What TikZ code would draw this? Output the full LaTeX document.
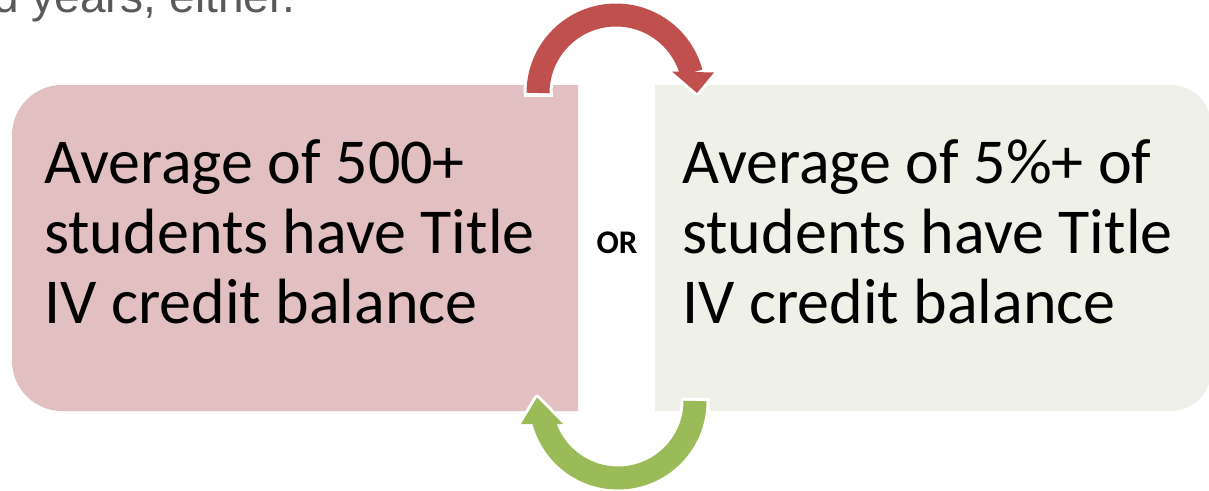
\documentclass[tikz,border=0pt]{standalone}
\usepackage{fontspec}
\setmainfont{Carlito}
\newfontfamily\topfont{Liberation Sans}
\definecolor{pinkbox}{RGB}{226,192,194}
\definecolor{greenbox}{RGB}{239,241,233}
\definecolor{redarrow}{RGB}{192,80,77}
\definecolor{greenarrow}{RGB}{155,187,89}
\definecolor{topgray}{RGB}{89,89,89}
\begin{document}
\begin{tikzpicture}[x=1pt,y=-1pt,
  boxtext/.style={anchor=base west, inner sep=0pt, font=\fontsize{64}{70}\selectfont, text=black},
  ortext/.style={anchor=base, inner sep=0pt, font=\bfseries\fontsize{33}{36}\selectfont, text=black},
  outline/.style={white, line width=29pt},
  band/.style={line width=23pt},
  headline/.style={white, line width=6pt, line join=round}]
\useasboundingbox (0,0) rectangle (1209,490);
\begin{scope}
\clip (0,0) rectangle (1209,490);
% top text (cut off)
\node[anchor=base west, inner sep=0pt, font=\topfont\fontsize{46}{50}\selectfont, text=topgray] (top) at (-7,12) {d years, either.};
% boxes
\fill[pinkbox] (578,85) [rounded corners=50pt] -- (12,85) -- (12,411) [sharp corners] -- (578,411) -- cycle;
\fill[greenbox] (655,85) [rounded corners=40pt] -- (1211,85) -- (1211,411) [sharp corners] -- (655,411) -- cycle;
% red arrow
\coordinate (rc) at (616,93);
\draw[outline] plot[domain=180:345, samples=60] ({616+78*cos(\x)},{93+78*sin(\x)});
\draw[outline] (538,93) -- (538,96.5);
\draw[headline, fill=white] (672,71.5) -- (714,72.5) -- (697,93) -- cycle;
\draw[band, redarrow] plot[domain=180:345, samples=60] ({616+78*cos(\x)},{93+78*sin(\x)});
\fill[redarrow] (672,71.5) -- (714,72.5) -- (697,93) -- cycle;
% green arrow
\coordinate (gc) at (618,401);
\draw[outline] plot[domain=0:165, samples=60] ({618+77*cos(\x)},{401+77*sin(\x)});
\draw[outline] (695,401) -- (695,397.5);
\draw[headline, fill=white] (521,424) -- (563,424) -- (537,397.5) -- cycle;
\draw[band, greenarrow] plot[domain=0:165, samples=60] ({618+77*cos(\x)},{401+77*sin(\x)});
\fill[greenarrow] (521,424) -- (563,424) -- (537,397.5) -- cycle;
% texts
\node[boxtext] (l1) at (44,183) {Average of 500+};
\node[boxtext] (l2) at (44,253) {students have Title};
\node[boxtext] (l3) at (44,323) {IV credit balance};
\node[boxtext] (r1) at (682,183) {Average of 5\%+ of};
\node[boxtext] (r2) at (682,253) {students have Title};
\node[boxtext] (r3) at (682,323) {IV credit balance};
\node[ortext] (or) at (617,253) {OR};
\end{scope}
\end{tikzpicture}
\end{document}
